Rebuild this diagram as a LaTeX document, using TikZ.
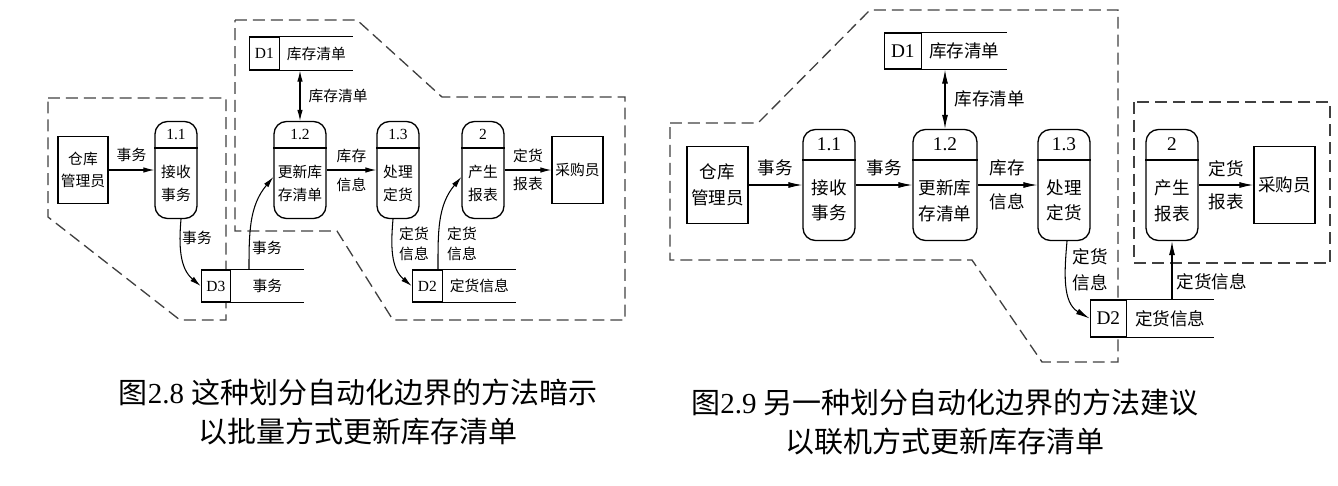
\documentclass[tikz,border=0pt]{standalone}
\usepackage{fontspec}
\setmainfont{Liberation Serif}
\newfontfamily\cjk{Noto Sans CJK SC}
\usetikzlibrary{arrows.meta}

\tikzset{
  zhA/.style={font=\cjk\fontsize{8.4}{12.8}\selectfont, inner sep=0pt, align=center},
  labA/.style={font=\cjk\fontsize{8.4}{11.3}\selectfont, inner sep=0pt, align=center},
  zhB/.style={font=\cjk\fontsize{10}{14.6}\selectfont, inner sep=0pt, align=center},
  numA/.style={font=\fontsize{8.8}{10}\selectfont, inner sep=0pt},
  numB/.style={font=\fontsize{11}{12}\selectfont, inner sep=0pt},
  procbox/.style={draw, fill=white, line width=0.75pt, rounded corners=2.5mm, inner sep=0pt},
  entbox/.style={draw, fill=white, line width=0.75pt, inner sep=0pt, align=center},
  storeid/.style={draw, fill=white, line width=0.75pt, inner sep=0pt},
  storetxt/.style={fill=white, inner sep=0pt, anchor=west},
  bound/.style={line width=0.75pt, black!75, dash pattern=on 6.8pt off 3.4pt},
  flowA/.style={line width=0.6pt, -{Latex[length=2.2mm,width=1.1mm]}},
  flowB/.style={line width=0.6pt, -{Latex[length=2.8mm,width=1.2mm]}},
  capt/.style={font=\fontsize{16.5}{22.5}\selectfont, inner sep=0pt, align=center},
}

\begin{document}
\begin{tikzpicture}[x=0.2mm, y=-0.2mm]
\useasboundingbox (0,0) rectangle (1338,485);

% Fig 2.8
\draw[bound] (48,98) -- (226,98) -- (226,320) -- (180,320) -- (48,217) -- cycle;
\draw[bound] (235,20) -- (357,20) -- (442,97) -- (625,97) -- (625,320) -- (393,320) -- (337,231) -- (235,231) -- cycle;

\node[entbox, zhA, minimum width=10mm, minimum height=13.4mm] (wh1) at (83,170) {仓库\\管理员};
\node[entbox, zhA, minimum width=10.2mm, minimum height=13.4mm] (buy1) at (577.5,170) {采购员};

\foreach \nm/\cx/\bw/\nr/\tx in {p11/176/8.4/1.1/{接收\\事务}, p12/300/10.4/1.2/{更新库\\存清单}, p13/398/8.4/1.3/{处理\\定货}, p2/483/8.4/2/{产生\\报表}} {
  \node[procbox, minimum width=\bw mm, minimum height=19.4mm] (\nm) at (\cx,170) {};
  \draw[line width=0.75pt] ([yshift=-5.4mm]\nm.north west) -- ([yshift=-5.4mm]\nm.north east);
  \node[numA] (\nm-n) at ([yshift=-2.7mm]\nm.north) {\nr};
  \node[zhA] (\nm-t) at ([yshift=-2.7mm]\nm.center) {\tx};
}

\node[storetxt, zhA, minimum width=14.4mm, minimum height=6.6mm] (d1t) at (280,53.5) {库存清单};
\node[storeid, numA, anchor=east, minimum width=6mm, minimum height=6.6mm] (d1) at (d1t.west) {D1};
\node[storetxt, zhA, minimum width=14.4mm, minimum height=6.4mm] (d3t) at (231,286) {事务};
\node[storeid, numA, anchor=east, minimum width=5.8mm, minimum height=6.4mm] (d3) at (d3t.west) {D3};
\node[storetxt, zhA, minimum width=14.4mm, minimum height=6.4mm] (d2t) at (443,286) {定货信息};
\node[storeid, numA, anchor=east, minimum width=6mm, minimum height=6.4mm] (d2) at (d2t.west) {D2};
\foreach \s in {d1t,d3t,d2t}
  \draw[line width=0.75pt] (\s.north west) -- (\s.north east) (\s.south west) -- (\s.south east);

\draw[flowA] (wh1) -- node[zhA, above=1.6mm] (la1) {事务} (p11);
\draw[flowA] (p12) -- node[zhA, above=1.4mm] (la4) {库存} node[zhA, below=1.4mm] (la5) {信息} (p13);
\draw[flowA] (p2) -- node[zhA, above=1.3mm] (la9) {定货} node[zhA, below=1.3mm] (la10) {报表} (buy1);
\draw[line width=0.6pt, {Latex[length=2.2mm,width=1.1mm]}-{Latex[length=2.2mm,width=1.1mm]}] (p12.north |- d1.south) -- node[zhA, right=1.6mm] (la3) {库存清单} (p12.north);
\draw[flowA] ([xshift=1mm]p11.south) to[out=-95, in=140] (d3.west);
\node[zhA] (la2) at (197,238) {事务};
\draw[flowA] ([xshift=3.6mm]d3t.north west) to[out=90, in=-130] ([yshift=-1.4mm]p12.west);
\node[zhA] (la6) at (267,248) {事务};
\draw[flowA] ([xshift=-1mm]p13.south) to[out=-95, in=140] (d2.west);
\node[labA] (la7) at (414,244) {定货\\信息};
\draw[flowA] ([xshift=-1mm]d2.north east) to[out=90, in=-130] ([yshift=-1.4mm]p2.west);
\node[labA] (la8) at (462,244) {定货\\信息};

\node[capt] (cap1) at (358,412) {{\cjk 图}2.8 {\cjk 这种划分自动化边界的方法暗示}\\{\cjk 以批量方式更新库存清单}};

% Fig 2.9
\draw[bound] (670,123) -- (758,123) -- (870,10) -- (1118,10) -- (1118,362) -- (1042,362) -- (972,260) -- (670,260) -- cycle;
\draw[bound] (1134,102) rectangle (1330,263);

\node[entbox, zhB, minimum width=12.2mm, minimum height=15.4mm] (wh2) at (717.5,185) {仓库\\管理员};
\node[entbox, zhB, minimum width=12.2mm, minimum height=15.4mm] (buy2) at (1284.5,185) {采购员};

\foreach \nm/\cx/\bw/\nr/\tx in {q11/829/10.4/1.1/{接收\\事务}, q12/945/12.8/1.2/{更新库\\存清单}, q13/1064/10.4/1.3/{处理\\定货}, q2/1172/10.4/2/{产生\\报表}} {
  \node[procbox, minimum width=\bw mm, minimum height=22.2mm] (\nm) at (\cx,185) {};
  \draw[line width=0.75pt] ([yshift=-6.2mm]\nm.north west) -- ([yshift=-6.2mm]\nm.north east);
  \node[numB] (\nm-n) at ([yshift=-3.1mm]\nm.north) {\nr};
  \node[zhB] (\nm-t) at ([yshift=-3.1mm]\nm.center) {\tx};
}

\node[storetxt, zhB, minimum width=16.8mm, minimum height=7.2mm] (e1t) at (922,51) {库存清单};
\node[storeid, numB, anchor=east, minimum width=7.4mm, minimum height=7.2mm] (e1) at (e1t.west) {D1};
\node[storetxt, zhB, minimum width=17.2mm, minimum height=7.4mm] (e2t) at (1127,318.5) {定货信息};
\node[storeid, numB, anchor=east, minimum width=7.2mm, minimum height=7.4mm] (e2) at (e2t.west) {D2};
\foreach \s in {e1t,e2t}
  \draw[line width=0.75pt] (\s.north west) -- (\s.north east) (\s.south west) -- (\s.south east);

\draw[flowB] (wh2) -- node[zhB, above=1.8mm] (lb1) {事务} (q11);
\draw[flowB] (q11) -- node[zhB, above=1.8mm] (lb2) {事务} (q12);
\draw[flowB] (q12) -- node[zhB, above=1.6mm] (lb4) {库存} node[zhB, below=1.6mm] (lb5) {信息} (q13);
\draw[flowB] (q2) -- node[zhB, above=1.6mm] (lb8) {定货} node[zhB, below=1.6mm] (lb9) {报表} (buy2);
\draw[line width=0.6pt, {Latex[length=2.8mm,width=1.2mm]}-{Latex[length=2.8mm,width=1.2mm]}] (q12.north |- e1.south) -- node[zhB, right=1.8mm] (lb3) {库存清单} (q12.north);
\draw[flowB] ([xshift=0.6mm]q13.south) to[out=-95, in=150] (e2.west);
\node[zhB] (lb6) at (1090,270) {定货\\信息};
\draw[flowB] (q2.south |- e2t.north) -- node[zhB, pos=0.3, right=0.8mm] (lb7) {定货信息} (q2.south);

\node[capt] (cap2) at (945,422) {{\cjk 图}2.9 {\cjk 另一种划分自动化边界的方法建议}\\{\cjk 以联机方式更新库存清单}};
\end{tikzpicture}
\end{document}
